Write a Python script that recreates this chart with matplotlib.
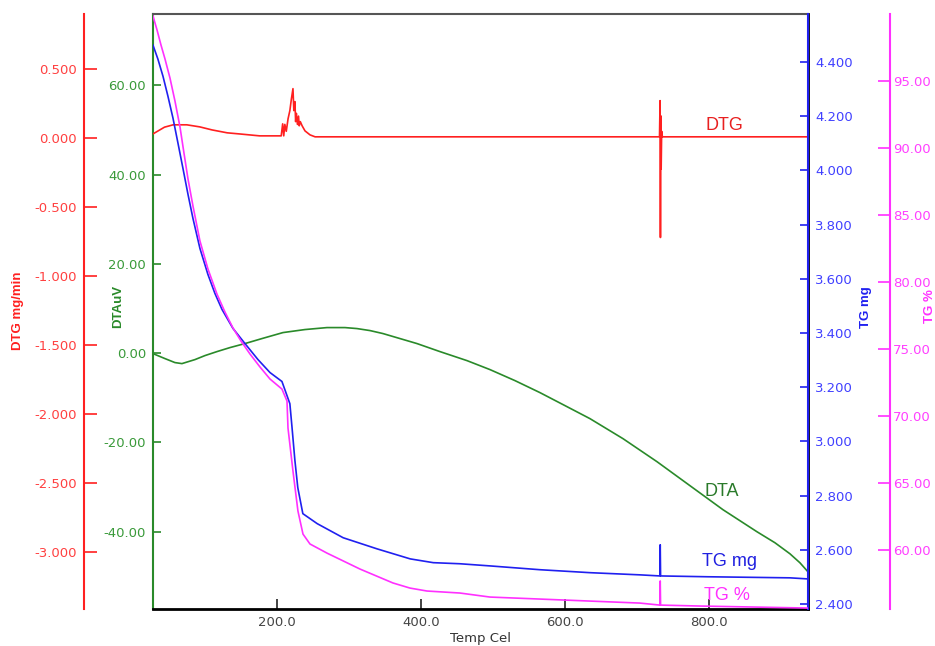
import matplotlib.pyplot as plt
import numpy as np

plt.rcParams['font.family'] = ['DejaVu Sans']

# DTA (uV) x temperatura
dta_t = [28.0, 44.7, 58.5, 68.2, 86.3, 100.2, 116.8, 134.9, 155.7, 179.3, 208.4, 239.0, 269.5, 294.5, 311.1, 329.2,
         347.2, 370.8, 394.4, 426.3, 463.8, 495.7, 530.4, 565.1, 599.8, 634.5, 680.3, 727.5, 773.3, 819.1, 866.2,
         891.2, 912.0, 925.9, 937.0]
dta_uv = [-0.09, -1.21, -2.10, -2.33, -1.43, -0.53, 0.36, 1.26, 2.16, 3.28, 4.62, 5.30, 5.74, 5.74, 5.52, 5.07,
          4.40, 3.28, 2.16, 0.36, -1.66, -3.67, -6.14, -8.83, -11.74, -14.66, -19.14, -24.30, -29.68, -35.06,
          -39.99, -42.46, -44.93, -46.95, -48.96]

# DTG (mg/min)
dtg_t = [28, 44, 56, 75, 93, 110, 131, 150, 176, 206, 208, 209.5, 211, 213, 215.5, 218, 220, 222.3, 223.5, 225,
         226, 227, 228.5, 230, 231, 232.5, 235, 239, 246, 253, 301, 731, 731.8, 732.3, 732.8, 733.3, 734, 735, 937]
dtg = [0.031, 0.08, 0.097, 0.097, 0.082, 0.06, 0.039, 0.03, 0.017, 0.017, 0.104, 0.017, 0.10, 0.05, 0.141, 0.20,
       0.28, 0.359, 0.20, 0.265, 0.12, 0.18, 0.10, 0.16, 0.09, 0.12, 0.09, 0.053, 0.024, 0.010, 0.010, 0.010, 0.272,
       -0.719, 0.162, -0.224, 0.05, 0.010, 0.010]

# TG (mg)
tg_t = [28.0, 34.9, 41.9, 48.8, 55.8, 62.7, 69.6, 76.6, 83.5, 93.2, 104.3, 114.0, 123.8, 139.0, 155.7, 173.7,
        190.4, 207, 214, 218, 221, 225, 229, 236, 256, 292, 339, 385, 417, 454, 496, 565, 635, 704, 731.5, 732,
        732.5, 797, 912, 937]
tg_mg = [4.463, 4.411, 4.348, 4.274, 4.193, 4.101, 4.008, 3.912, 3.823, 3.712, 3.616, 3.546, 3.487, 3.417, 3.361,
         3.302, 3.254, 3.221, 3.169, 3.139, 3.051, 2.929, 2.829, 2.733, 2.696, 2.644, 2.603, 2.566, 2.552, 2.548,
         2.540, 2.526, 2.515, 2.507, 2.503, 2.618, 2.503, 2.500, 2.496, 2.492]

# TG (%)
tgp_t = [28.0, 33.6, 39.1, 44.7, 51.6, 58.5, 65.5, 71.0, 76.6, 83.5, 93.2, 104.3, 116.8, 127.9, 139.0, 150.1,
         162.6, 176.5, 190.4, 207, 214, 215.4, 222.3, 229.2, 236.2, 245.9, 269.5, 315.3, 361.1, 384.7, 408.3,
         454.1, 495.7, 565.1, 634.5, 703.9, 731.5, 732, 732.5, 787, 936]
tg_pct = [99.85, 98.81, 97.69, 96.64, 95.22, 93.51, 91.57, 89.63, 87.69, 85.67, 83.06, 80.97, 79.10, 77.76, 76.57,
          75.60, 74.63, 73.66, 72.76, 72.01, 71.12, 69.10, 65.89, 62.91, 61.19, 60.45, 59.77, 58.58, 57.54, 57.16,
          56.94, 56.79, 56.49, 56.34, 56.19, 56.04, 55.89, 57.69, 55.89, 55.82, 55.67]

c_dtg = '#ff2020'
c_dta = '#2a8a2a'
c_tg = '#2020f0'
c_pct = '#ff30ff'
lab_font = ['Liberation Sans', 'DejaVu Sans']

fig = plt.figure(figsize=(9.35, 6.46), dpi=100)
ax = fig.add_axes([0.1636, 0.0573, 0.7005, 0.9211])
ax2 = ax.twinx()
ax3 = ax.twinx()
ax4 = ax.twinx()

ax.plot(dta_t, dta_uv, color=c_dta, lw=1.2)
ax.set_xlim(28, 937)
ax.set_ylim(-57.3, 76)
ax.set_xticks([200, 400, 600, 800])
ax.set_xticklabels(['%.1f' % v for v in [200, 400, 600, 800]])
ax.set_yticks([-40, -20, 0, 20, 40, 60])
ax.set_yticklabels(['%.2f' % v for v in [-40, -20, 0, 20, 40, 60]])
ax.tick_params(axis='x', direction='in', length=7, width=1.2, colors='#222222', labelcolor='#444444', labelsize=9.5, pad=5)
ax.tick_params(axis='y', direction='in', length=6, width=1.2, colors=c_dta, labelcolor='#3a9a3a', labelsize=9.5, pad=5)
ax.spines['left'].set_color(c_dta)
ax.spines['left'].set_linewidth(1.5)
ax.spines['bottom'].set_linewidth(2)
ax.spines['top'].set_color('#555555')
ax.spines['top'].set_linewidth(1.5)
ax.spines['right'].set_color('black')
ax.spines['right'].set_linewidth(2)
ax.set_xlabel('Temp Cel', fontsize=9.5, color='#333333', labelpad=2)

# DTG no eixo da esquerda deslocado
ax2.plot(dtg_t, dtg, color=c_dtg, lw=1.2)
ax2.set_ylim(-3.41, 0.90)
ax2.yaxis.set_ticks_position('left')
ax2.spines['left'].set_position(('outward', 49.7))
ax2.spines['left'].set_visible(True)
ax2.spines['left'].set_color(c_dtg)
ax2.spines['left'].set_linewidth(1.5)
for s in ['right', 'top', 'bottom']:
    ax2.spines[s].set_visible(False)
dtg_ticks = [-3.0, -2.5, -2.0, -1.5, -1.0, -0.5, 0.0, 0.5]
ax2.set_yticks(dtg_ticks)
ax2.set_yticklabels(['%.3f' % v for v in dtg_ticks])
ax2.tick_params(axis='y', direction='in', length=9, width=1.2, colors=c_dtg, labelcolor='#ff4040', labelsize=9.5, pad=5)

# TG mg
ax3.plot(tg_t, tg_mg, color=c_tg, lw=1.2)
ax3.set_ylim(2.381, 4.578)
ax3.spines['right'].set_color(c_tg)
ax3.spines['right'].set_linewidth(1.5)
for s in ['left', 'top', 'bottom']:
    ax3.spines[s].set_visible(False)
tg_ticks = [2.4, 2.6, 2.8, 3.0, 3.2, 3.4, 3.6, 3.8, 4.0, 4.2, 4.4]
ax3.set_yticks(tg_ticks)
ax3.set_yticklabels(['%.3f' % v for v in tg_ticks])
ax3.tick_params(axis='y', direction='in', length=6, width=1.2, colors=c_tg, labelcolor='#4040ff', labelsize=9.5, pad=5)

# TG %
ax4.plot(tgp_t, tg_pct, color=c_pct, lw=1.2)
ax4.set_ylim(55.6, 100)
ax4.spines['right'].set_position(('outward', 59))
ax4.spines['right'].set_color(c_pct)
ax4.spines['right'].set_linewidth(1.5)
for s in ['left', 'top', 'bottom']:
    ax4.spines[s].set_visible(False)
pct_ticks = [60, 65, 70, 75, 80, 85, 90, 95]
ax4.set_yticks(pct_ticks)
ax4.set_yticklabels(['%.2f' % v for v in pct_ticks])
ax4.tick_params(axis='y', direction='in', length=9, width=1.2, colors=c_pct, labelcolor='#ff40ff', labelsize=9.5, pad=2)

# rotulos dos eixos
fig.text(18/935, 1-311/646, 'DTG mg/min', rotation=90, color=c_dtg, fontsize=9.5, fontweight='bold',
         family=lab_font, ha='center', va='center')
fig.text(118/935, 1-306/646, 'DTAuV', rotation=90, color=c_dta, fontsize=9.5, fontweight='bold',
         family=lab_font, ha='center', va='center')
fig.text(866/935, 1-307/646, 'TG mg', rotation=90, color=c_tg, fontsize=9.5, fontweight='bold',
         family=lab_font, ha='center', va='center')
fig.text(930/935, 1-306/646, 'TG %', rotation=90, color=c_pct, fontsize=9.5, fontweight='bold',
         family=lab_font, ha='center', va='center')

# nomes das curvas
ax.text(0.873, 0.813, 'DTG', transform=ax.transAxes, color='#e82020', fontsize=13, family=lab_font, ha='center', va='center')
ax.text(0.869, 0.197, 'DTA', transform=ax.transAxes, color='#2a7a2a', fontsize=13, family=lab_font, ha='center', va='center')
ax.text(0.881, 0.080, 'TG mg', transform=ax.transAxes, color='#2020e0', fontsize=13, family=lab_font, ha='center', va='center')
ax.text(0.876, 0.022, 'TG %', transform=ax.transAxes, color='#ff30ff', fontsize=13, family=lab_font, ha='center', va='center')

plt.savefig('out.png', dpi=100)
